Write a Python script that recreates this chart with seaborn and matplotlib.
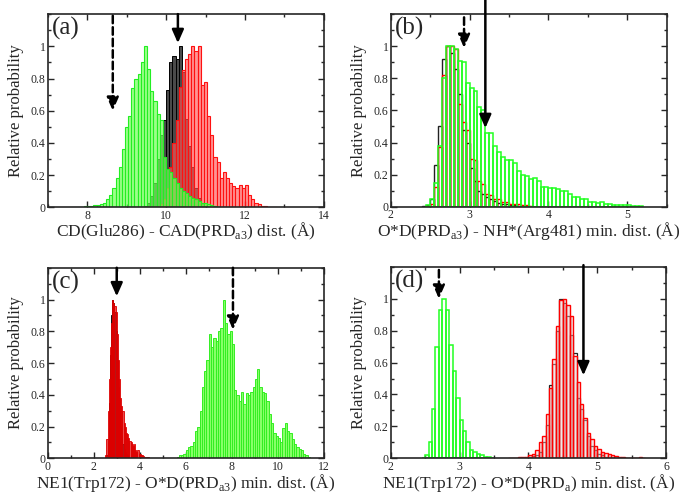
import numpy as np
import pandas as pd
import seaborn as sns
import matplotlib.pyplot as plt
from matplotlib.ticker import MultipleLocator, FixedLocator, FormatStrFormatter


# ---- (a) CD(Glu286) - CAD(PRDa3) distance, bins of 0.08 A
a_bin = 0.08
a_black_start = 9.44
a_black = [0.01, 0.03, 0.07, 0.15, 0.30, 0.45, 0.54, 0.73, 0.90, 0.94, 0.92, 1.00,
           0.84, 0.55, 0.38, 0.25, 0.12, 0.06, 0.02, 0.01]
a_red_start = 9.84
a_red = [0.02, 0.05, 0.12, 0.25, 0.40, 0.54, 0.75, 0.85, 0.92, 0.95, 1.00, 0.97,
         1.00, 0.76, 0.78, 0.57, 0.45, 0.31, 0.28, 0.18, 0.22, 0.18, 0.15, 0.13,
         0.12, 0.14, 0.12, 0.14, 0.08, 0.05, 0.03, 0.02, 0.01, 0.008, 0.005, 0.004, 0.003]
a_green_start = 7.60
a_green = [0.003, 0.003, 0.005, 0.005, 0.007, 0.008, 0.01, 0.012, 0.015, 0.02, 0.03,
           0.05, 0.08, 0.12, 0.18, 0.25, 0.36, 0.50, 0.57, 0.74, 0.80, 0.83, 0.90,
           1.00, 0.86, 0.72, 0.66, 0.58, 0.54, 0.31, 0.24, 0.22, 0.18, 0.15, 0.12,
           0.10, 0.09, 0.07, 0.06, 0.05, 0.04, 0.03, 0.025, 0.02, 0.015, 0.01, 0.005]
a_arrows = [(8.65, 1.19, 0.60, True), (10.3, 1.20, 1.02, False)]

# ---- (b) O*D(PRDa3) - NH*(Arg481) min. distance, bins of 0.05 A
b_bin = 0.05
b_black_start = 2.40
b_black = [0.005, 0.01, 0.05, 0.26, 0.50, 0.92, 1.00, 0.96, 0.86, 0.70, 0.48, 0.40,
           0.24, 0.16, 0.10, 0.08, 0.06, 0.045, 0.035, 0.025, 0.02, 0.015, 0.01,
           0.008, 0.005]
b_red_start = 2.45
b_red = [0.005, 0.02, 0.12, 0.37, 0.82, 1.00, 1.00, 0.98, 0.64, 0.53, 0.48, 0.30,
         0.29, 0.16, 0.14, 0.08, 0.07, 0.05, 0.05, 0.03, 0.03, 0.02, 0.02, 0.015,
         0.01, 0.01, 0.005]
b_green_start = 2.45
b_green = [0.01, 0.05, 0.15, 0.38, 0.80, 1.00, 1.00, 0.98, 0.91, 0.90, 0.77, 0.74,
           0.72, 0.62, 0.60, 0.46, 0.46, 0.38, 0.34, 0.31, 0.29, 0.29, 0.27, 0.22,
           0.20, 0.19, 0.17, 0.18, 0.16, 0.12, 0.12, 0.115, 0.115, 0.11, 0.10, 0.095,
           0.08, 0.06, 0.06, 0.045, 0.05, 0.03, 0.03, 0.025, 0.028, 0.015, 0.02,
           0.01, 0.01, 0.01, 0.008, 0.008, 0.006, 0.005, 0.003]
b_arrows = [(2.93, 1.18, 0.99, True), (3.20, 1.29, 0.49, False)]

# ---- (c) NE1(Trp172) - O*D(PRDa3) min. distance
c_fine = 0.05
c_black_start = 2.55
c_black = [0.02, 0.10, 0.35, 0.65, 0.90, 1.00, 0.98, 0.92, 0.80, 0.62, 0.45, 0.30,
           0.20, 0.14, 0.09, 0.06, 0.04, 0.03, 0.02, 0.01]
c_red_start = 2.50
c_red = [0.02, 0.12, 0.30, 0.50, 0.70, 0.85, 1.00, 0.98, 0.96, 0.92, 0.78, 0.62,
         0.50, 0.38, 0.33, 0.30, 0.22, 0.20, 0.16, 0.15, 0.13, 0.11, 0.10, 0.09,
         0.08, 0.09, 0.05, 0.04, 0.05, 0.03, 0.03, 0.02, 0.02, 0.015, 0.01, 0.01,
         0.008, 0.006, 0.005, 0.004, 0.003, 0.003, 0.002]
c_bin = 0.10
c_green_start = 5.60
c_green = [0.01, 0.02, 0.02, 0.03, 0.05, 0.07, 0.08, 0.10, 0.17, 0.20, 0.30, 0.45,
           0.55, 0.62, 0.78, 0.70, 0.76, 0.74, 0.80, 0.82, 1.00, 0.85, 0.78, 0.80,
           0.72, 0.43, 0.40, 0.36, 0.42, 0.34, 0.41, 0.40, 0.42, 0.45, 0.50, 0.56,
           0.45, 0.42, 0.41, 0.36, 0.28, 0.22, 0.16, 0.14, 0.13, 0.10, 0.19, 0.22,
           0.17, 0.16, 0.12, 0.09, 0.07, 0.06, 0.05, 0.03, 0.02, 0.01]
c_arrows = [(3.00, 1.20, 1.02, False), (8.05, 1.20, 0.81, True)]

# ---- (d) NE1(Trp172) - O*D(PRDa) min. distance, bins of 0.05 A
d_bin = 0.05
d_green_start = 2.45
d_green = [0.005, 0.02, 0.10, 0.31, 0.70, 0.93, 1.00, 0.93, 0.71, 0.55, 0.38, 0.24,
           0.17, 0.10, 0.05, 0.04, 0.03, 0.02, 0.01, 0.01, 0.005]
d_red_start = 3.70
d_red = [0.003, 0.005, 0.005, 0.008, 0.01, 0.01, 0.02, 0.03, 0.05, 0.10, 0.14, 0.28,
         0.44, 0.62, 0.83, 0.99, 1.00, 0.96, 0.89, 0.64, 0.48, 0.34, 0.25, 0.16,
         0.12, 0.08, 0.06, 0.04, 0.035, 0.03, 0.02, 0.015, 0.01, 0.008, 0.005,
         0.005, 0.004, 0.003, 0.006, 0.003]
d_black_start = 4.00
d_black = [0.01, 0.015, 0.02, 0.04, 0.10, 0.21, 0.46, 0.59, 0.80, 1.00, 0.97, 0.89,
           0.77, 0.66, 0.38, 0.31, 0.24, 0.14, 0.08, 0.05, 0.03, 0.02, 0.01, 0.005]
d_arrows = [(2.70, 1.18, 1.00, True), (4.80, 1.21, 0.52, False)]


sns.set_style("ticks")
plt.rcParams["font.family"] = ["Liberation Serif", "DejaVu Serif"]
plt.rcParams["mathtext.fontset"] = "custom"
plt.rcParams["mathtext.rm"] = "Liberation Serif"


def hist(ax, start, width, heights, **kw):
    edges = start + width * np.arange(len(heights) + 1)
    df = pd.DataFrame({"dist": edges[:-1] + width / 2, "prob": heights})
    sns.histplot(data=df, x="dist", weights="prob", bins=list(edges), ax=ax, **kw)


def arrows(ax, items):
    for x, y0, y1, dashed in items:
        ax.annotate("", xy=(x, y1), xytext=(x, y0), annotation_clip=False,
                    arrowprops=dict(arrowstyle="-|>,head_length=0.5,head_width=0.22",
                                    color="black", lw=1.8, mutation_scale=16,
                                    shrinkA=0, shrinkB=0,
                                    linestyle=(0, (3, 1.6)) if dashed else "-"))


def style(ax, xlim, xmaj, xmin, xlabel, tag):
    ax.set_xlim(*xlim)
    ax.set_ylim(0, 1.2)
    ax.xaxis.set_major_locator(MultipleLocator(xmaj))
    ax.xaxis.set_minor_locator(MultipleLocator(xmin))
    ax.xaxis.set_major_formatter(FormatStrFormatter("%g"))
    ax.yaxis.set_major_locator(FixedLocator([0, 0.2, 0.4, 0.6, 0.8, 1.0]))
    ax.yaxis.set_minor_locator(MultipleLocator(0.1))
    ax.yaxis.set_major_formatter(FormatStrFormatter("%g"))
    ax.tick_params(which="both", direction="in", top=True, right=True,
                   labelsize=8.5, width=1.0)
    ax.tick_params(which="major", length=4.5)
    ax.tick_params(which="minor", length=2.5)
    ax.tick_params(axis="y", pad=1.5)
    ax.tick_params(axis="x", pad=2)
    for s in ax.spines.values():
        s.set_linewidth(1.2)
    ax.set_xlabel(xlabel, fontsize=12.5)
    ax.set_ylabel("Relative probability", fontsize=12)
    ax.xaxis.set_label_coords(0.5, -0.07)
    ax.yaxis.set_label_coords(-0.085, 0.5)
    ax.text(0.015, 0.985, tag, transform=ax.transAxes, ha="left", va="top", fontsize=18)


fig = plt.figure(figsize=(6.82, 4.95), dpi=100)
ax_a = fig.add_axes([0.0699, 0.581, 0.405, 0.3905])
ax_b = fig.add_axes([0.5729, 0.5824, 0.4047, 0.389])
ax_c = fig.add_axes([0.0699, 0.0741, 0.405, 0.385])
ax_d = fig.add_axes([0.5729, 0.0741, 0.4037, 0.387])

# (a)
hist(ax_a, a_black_start, a_bin, a_black, facecolor="#4a4a4a", edgecolor="black", linewidth=0.7)
hist(ax_a, a_red_start, a_bin, a_red, facecolor=(1, 0.35, 0.35, 0.65), edgecolor="#ff1010", linewidth=0.8)
hist(ax_a, a_green_start, a_bin, a_green, facecolor=(0.45, 1, 0.35, 0.7), edgecolor="#22ee22", linewidth=0.8)
arrows(ax_a, a_arrows)
style(ax_a, (7, 14), 2, 1, r"CD(Glu286) - CAD(PRD$_{\rm a3}$) dist. ($\rm\AA$)", "(a)")

# (b)
hist(ax_b, b_black_start, b_bin, b_black, fill=False, color="#222222", linewidth=1.0)
hist(ax_b, b_red_start, b_bin, b_red, fill=False, color="#ff0000", linewidth=1.0)
hist(ax_b, b_green_start, b_bin, b_green, fill=False, color="#22ff22", linewidth=1.1)
arrows(ax_b, b_arrows)
style(ax_b, (2, 5.5), 1, 0.5, r"O*D(PRD$_{\rm a3}$) - NH*(Arg481) min. dist. ($\rm\AA$)", "(b)")

# (c)
hist(ax_c, c_black_start, c_fine, c_black, facecolor="#303030", edgecolor="black", linewidth=0.6)
hist(ax_c, c_red_start, c_fine, c_red, facecolor=(0.9, 0.05, 0.05, 0.75), edgecolor="#dd0000", linewidth=0.6)
hist(ax_c, c_green_start, c_bin, c_green, facecolor=(0.45, 1, 0.3, 0.85), edgecolor="#33ee22", linewidth=0.7)
arrows(ax_c, c_arrows)
style(ax_c, (0, 12), 2, 1, r"NE1(Trp172) - O*D(PRD$_{\rm a3}$) min. dist. ($\rm\AA$)", "(c)")

# (d)
hist(ax_d, d_black_start, d_bin, d_black, fill=False, color="#222222", linewidth=0.9)
hist(ax_d, d_red_start, d_bin, d_red, facecolor=(0.9, 0.78, 0.78, 0.45), edgecolor="#ff0000", linewidth=1.0)
hist(ax_d, d_green_start, d_bin, d_green, fill=False, color="#22ff22", linewidth=1.1)
arrows(ax_d, d_arrows)
style(ax_d, (2, 6), 1, 0.5, r"NE1(Trp172) - O*D(PRD$_{\rm a}$) min. dist. ($\rm\AA$)", "(d)")

fig.savefig("out.png", dpi=100)
